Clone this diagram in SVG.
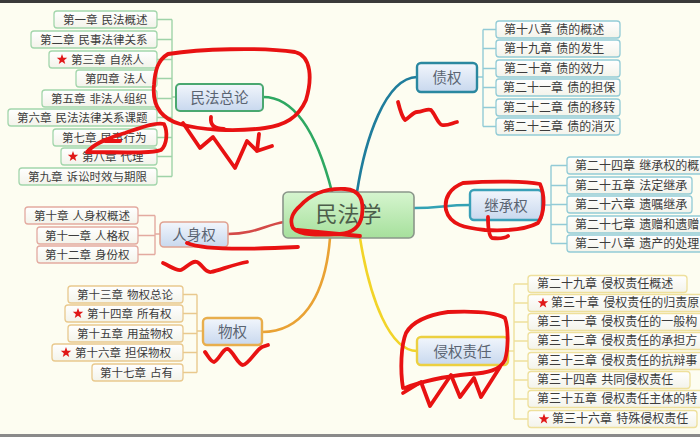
<svg xmlns="http://www.w3.org/2000/svg" width="700" height="437" viewBox="0 0 700 437">
<defs>
<linearGradient id="gNode" x1="0" y1="0" x2="0" y2="1"><stop offset="0" stop-color="#f2f6fc"/><stop offset="1" stop-color="#c8d8ee"/></linearGradient>
<linearGradient id="gRoot" x1="0" y1="0" x2="0" y2="1"><stop offset="0" stop-color="#d6f5cf"/><stop offset="1" stop-color="#a6e09c"/></linearGradient>
<linearGradient id="gBox" x1="0" y1="0" x2="0" y2="1"><stop offset="0" stop-color="#ffffff"/><stop offset="1" stop-color="#f3f3ea"/></linearGradient>
<polygon id="star" points="0,-5.5 1.35,-1.86 5.23,-1.7 2.19,0.71 3.23,4.45 0,2.3 -3.23,4.45 -2.19,0.71 -5.23,-1.7 -1.35,-1.86" fill="#e01818"/>
</defs>
<style>
text{font-family:"Noto Sans CJK SC","Noto Sans",sans-serif;}
.ch{font-size:11.5px;fill:#3c3c3c;word-spacing:1.5px;}
.cr{font-size:12px;fill:#3c3c3c;word-spacing:1.5px;}
.lb{font-size:14.5px;fill:#5a6472;text-anchor:middle;}
.box{fill:url(#gBox);stroke-width:1.3;}
.g{stroke:#a3d6ac;} .t{stroke:#92cbd6;} .r{stroke:#e3aaa0;} .o{stroke:#e9c98e;} .y{stroke:#eee09c;}
.br{fill:none;stroke-width:1.4;}
.cv{fill:none;stroke-width:2.6;stroke-linecap:round;}
.scr{fill:none;stroke:#e81212;stroke-width:3.8;stroke-linecap:round;stroke-linejoin:round;}
.n{fill:url(#gNode);}
</style>
<rect x="0" y="0" width="700" height="437" fill="#fdfdf1"/>
<rect x="0" y="0" width="700" height="3" fill="#3a3a3a"/>
<rect x="0" y="434" width="700" height="3" fill="#8a8a8a"/>

<g id="connectors">
<path class="cv" stroke="#2ea862" d="M263,97 C300,97 320,145 332,192"/>
<path class="cv" stroke="#1f7d9c" d="M357,192 C365,140 385,78 417,77"/>
<path class="cv" stroke="#33a2b4" d="M414,208 C440,208 445,205 470,205"/>
<path class="cv" stroke="#d44a48" d="M228,234 C255,234 265,225 284,222"/>
<path class="cv" stroke="#e9a234" d="M330,238 C325,300 300,332 262,332"/>
<path class="cv" stroke="#f2d428" d="M360,238 C370,300 390,351 417,351"/>
<g class="br" stroke="#9fd3a8">
<path d="M172,19.5 V176.5 M157,19.5 H172 M157,39.5 H172 M157,59.5 H172 M157,78.5 H172 M157,98.5 H172 M157,117.5 H172 M157,137.5 H172 M157,156.5 H172 M157,176.5 H172 M172,97 H176"/>
</g>
<g class="br" stroke="#e3aaa0">
<path d="M155,215.5 V254.5 M138,215.5 H155 M138,235.5 H155 M138,254.5 H155 M155,234 H160"/>
</g>
<g class="br" stroke="#e9c98e">
<path d="M197,294.5 V372.5 M183,294.5 H197 M183,313.5 H197 M183,333.5 H197 M183,352.5 H197 M183,372.5 H197 M197,331 H203"/>
</g>
<g class="br" stroke="#92cbd6">
<path d="M483,29.5 V126.5 M483,29.5 H496 M483,48.5 H496 M483,68.5 H496 M483,87.5 H496 M483,107.5 H496 M483,126.5 H496 M477,77 H483"/>
<path d="M551,165.5 V243.5 M551,165.5 H567 M551,185.5 H567 M551,204.5 H567 M551,224.5 H567 M551,243.5 H567 M542,205 H551"/>
</g>
<g class="br" stroke="#eee09c">
<path d="M514,284 V419 M514,284 H528 M514,303 H528 M514,322 H528 M514,341 H528 M514,361 H528 M514,380 H528 M514,399 H528 M514,419 H528 M508,351 H514"/>
</g>
</g>

<g id="root"><rect x="283" y="192" width="131" height="46" rx="5" fill="url(#gRoot)" stroke="#8a968a" stroke-width="1.6"/><text x="348.5" y="222" font-size="22" fill="#4d5e4b" text-anchor="middle">民法学</text></g>

<g id="n-minfa"><rect class="n" x="176" y="84" width="87" height="27" rx="4" stroke="#4aa870" stroke-width="2"/><text class="lb" x="219.5" y="102.5">民法总论</text></g>
<g id="n-renshen"><rect class="n" x="160" y="222" width="68" height="25" rx="4" stroke="#e0a292" stroke-width="1.6"/><text class="lb" x="194" y="239.5">人身权</text></g>
<g id="n-wuquan"><rect class="n" x="203" y="318" width="59" height="27" rx="4" stroke="#e8ae4c" stroke-width="2.4"/><text class="lb" x="232.5" y="336.5">物权</text></g>
<g id="n-zhai"><rect class="n" x="417" y="63" width="60" height="29" rx="4" stroke="#2a88a0" stroke-width="2.4"/><text class="lb" x="447" y="82.5">债权</text></g>
<g id="n-jicheng"><rect class="n" x="470" y="190" width="72" height="30" rx="4" stroke="#3aa0b8" stroke-width="2.4"/><text class="lb" x="506" y="210.5">继承权</text></g>
<g id="n-qinquan"><rect class="n" x="417" y="337" width="91" height="28" rx="4" stroke="#ecd040" stroke-width="2.4"/><text class="lb" x="462.5" y="356.5">侵权责任</text></g>

<g id="c1"><rect class="box g" x="54" y="11" width="103" height="17" rx="3"/><text class="ch" x="63" y="23.5">第一章 民法概述</text></g>
<g id="c2"><rect class="box g" x="31" y="31" width="126" height="17" rx="3"/><text class="ch" x="40" y="43.5">第二章 民事法律关系</text></g>
<g id="c3"><rect class="box g" x="49" y="51" width="108" height="17" rx="3"/><use href="#star" x="62" y="59.5"/><text class="ch" x="71" y="63.5">第三章 自然人</text></g>
<g id="c4"><rect class="box g" x="76" y="70" width="81" height="17" rx="3"/><text class="ch" x="85" y="82.5">第四章 法人</text></g>
<g id="c5"><rect class="box g" x="42" y="90" width="115" height="17" rx="3"/><text class="ch" x="51" y="102.5">第五章 非法人组织</text></g>
<g id="c6"><rect class="box g" x="8" y="109" width="149" height="17" rx="3"/><text class="ch" x="17" y="121.5">第六章 民法法律关系课题</text></g>
<g id="c7"><rect class="box g" x="53" y="129" width="104" height="17" rx="3"/><text class="ch" x="62" y="141.5">第七章 民事行为</text></g>
<g id="c8"><rect class="box g" x="61" y="148" width="96" height="17" rx="3"/><use href="#star" x="73" y="156.5"/><text class="ch" x="82" y="160.5">第八章 代理</text></g>
<g id="c9"><rect class="box g" x="19" y="168" width="138" height="17" rx="3"/><text class="ch" x="28" y="180.5">第九章 诉讼时效与期限</text></g>

<g id="c10"><rect class="box r" x="25" y="207" width="113" height="17" rx="3"/><text class="ch" x="34" y="219.5">第十章 人身权概述</text></g>
<g id="c11"><rect class="box r" x="37" y="227" width="101" height="17" rx="3"/><text class="ch" x="45" y="239.5">第十一章 人格权</text></g>
<g id="c12"><rect class="box r" x="37" y="246" width="101" height="17" rx="3"/><text class="ch" x="45" y="258.5">第十二章 身份权</text></g>

<g id="c13"><rect class="box o" x="68" y="286" width="115" height="17" rx="3"/><text class="ch" x="77" y="298.5">第十三章 物权总论</text></g>
<g id="c14"><rect class="box o" x="65" y="305" width="118" height="17" rx="3"/><use href="#star" x="78" y="313.5"/><text class="ch" x="87" y="317.5">第十四章 所有权</text></g>
<g id="c15"><rect class="box o" x="68" y="325" width="115" height="17" rx="3"/><text class="ch" x="77" y="337.5">第十五章 用益物权</text></g>
<g id="c16"><rect class="box o" x="52" y="344" width="131" height="17" rx="3"/><use href="#star" x="66" y="352.5"/><text class="ch" x="75" y="356.5">第十六章 担保物权</text></g>
<g id="c17"><rect class="box o" x="92" y="364" width="91" height="17" rx="3"/><text class="ch" x="100" y="376.5">第十七章 占有</text></g>

<g id="c18"><rect class="box t" x="496" y="21" width="124" height="17" rx="3"/><text class="cr" x="504" y="33.8">第十八章 债的概述</text></g>
<g id="c19"><rect class="box t" x="496" y="40" width="124" height="17" rx="3"/><text class="cr" x="504" y="52.8">第十九章 债的发生</text></g>
<g id="c20"><rect class="box t" x="496" y="60" width="124" height="17" rx="3"/><text class="cr" x="504" y="72.8">第二十章 债的效力</text></g>
<g id="c21"><rect class="box t" x="496" y="79" width="124" height="17" rx="3"/><text class="cr" x="503" y="91.8">第二十一章 债的担保</text></g>
<g id="c22"><rect class="box t" x="496" y="99" width="124" height="17" rx="3"/><text class="cr" x="503" y="111.8">第二十二章 债的移转</text></g>
<g id="c23"><rect class="box t" x="496" y="118" width="124" height="17" rx="3"/><text class="cr" x="503" y="130.8">第二十三章 债的消灭</text></g>

<g id="c24"><rect class="box t" x="567" y="157" width="140" height="17" rx="3"/><text class="cr" x="575" y="169.8">第二十四章 继承权的概</text></g>
<g id="c25"><rect class="box t" x="567" y="177" width="125" height="17" rx="3"/><text class="cr" x="575" y="189.8">第二十五章 法定继承</text></g>
<g id="c26"><rect class="box t" x="567" y="196" width="125" height="17" rx="3"/><text class="cr" x="575" y="208.8">第二十六章 遗嘱继承</text></g>
<g id="c27"><rect class="box t" x="567" y="216" width="140" height="17" rx="3"/><text class="cr" x="575" y="228.8">第二十七章 遗赠和遗赠</text></g>
<g id="c28"><rect class="box t" x="567" y="235" width="140" height="17" rx="3"/><text class="cr" x="575" y="247.8">第二十八章 遗产的处理</text></g>

<g id="c29"><rect class="box y" x="528" y="275.5" width="159" height="17" rx="3"/><text class="cr" x="537" y="288.3">第二十九章 侵权责任概述</text></g>
<g id="c30"><rect class="box y" x="528" y="294.5" width="180" height="17" rx="3"/><use href="#star" x="543" y="303"/><text class="cr" x="551" y="307.3">第三十章 侵权责任的归责原</text></g>
<g id="c31"><rect class="box y" x="528" y="313.5" width="180" height="17" rx="3"/><text class="cr" x="537" y="326.3">第三十一章 侵权责任的一般构</text></g>
<g id="c32"><rect class="box y" x="528" y="332.5" width="180" height="17" rx="3"/><text class="cr" x="537" y="345.3">第三十二章 侵权责任的承担方</text></g>
<g id="c33"><rect class="box y" x="528" y="352.5" width="180" height="17" rx="3"/><text class="cr" x="537" y="365.3">第三十三章 侵权责任的抗辩事</text></g>
<g id="c34"><rect class="box y" x="528" y="371.5" width="162" height="17" rx="3"/><text class="cr" x="537" y="384.3">第三十四章 共同侵权责任</text></g>
<g id="c35"><rect class="box y" x="528" y="390.5" width="180" height="17" rx="3"/><text class="cr" x="537" y="403.3">第三十五章 侵权责任主体的特</text></g>
<g id="c36"><rect class="box y" x="528" y="410.5" width="169" height="17" rx="3"/><use href="#star" x="544" y="419"/><text class="cr" x="552" y="423.3">第三十六章 特殊侵权责任</text></g>

<g id="scribbles">
<path class="scr" d="M168,54 C200,49 260,47 295,52 C312,56 312,80 306,100 C298,118 285,125 265,128 C235,132 200,130 180,124 C160,118 152,105 154,85 C155,70 158,60 168,54"/>
<path class="scr" d="M211,117 C210,125 214,129 224,129"/>
<path class="scr" d="M183,123 L200,148 L213,137 L235,168 L247,141 L257,151 L272,146 M257,151 L259,134"/>
<path class="scr" d="M87,152 C95,143 108,138 125,133 C140,128 155,122 164,124 C168,132 167,145 161,150 C150,154 120,152 87,152 M105,141 L120,141"/>
<path class="scr" d="M187,243 C200,249 240,250 298,247"/>
<path class="scr" d="M163,263 C170,266 176,271 181,270 C186,268 192,260 197,262 C202,264 205,273 211,272 C220,270 235,264 247,262"/>
<path class="scr" d="M300,206 C310,195 325,188 345,189 C360,190 364,200 362,215 C360,228 352,233 340,234 C320,235 300,236 293,228 C289,220 293,212 300,206 M297,230 L360,236"/>
<path class="scr" d="M205,352 C208,356 211,362 214,362 C219,360 223,348 228,349 C233,351 238,365 243,365 C249,364 256,350 262,347 L268,345"/>
<path class="scr" d="M398,102 C400,110 403,118 405,120 C409,118 413,112 417,112 C423,112 427,108 431,110 C435,114 438,124 442,125 C448,126 452,123 457,122"/>
<path class="scr" d="M463,183 C490,181 525,181 540,184 C545,195 545,213 538,223 C525,230 505,231 485,230 C465,228 450,225 446,210 C444,198 450,188 463,183 M488,217 C488,228 489,236 492,238 C500,239 505,238 508,236"/>
<path class="scr" d="M403,388 C400,370 401,345 406,333 C412,322 428,315 448,312 C470,311 495,312 505,318 C509,330 508,350 505,360 C500,370 488,373 470,374 C450,376 425,380 405,388"/>
<path class="scr" d="M403,393 L421,382 L430,406 L451,375 L460,397 L474,378 L481,397 L500,367"/>
</g>
</svg>
